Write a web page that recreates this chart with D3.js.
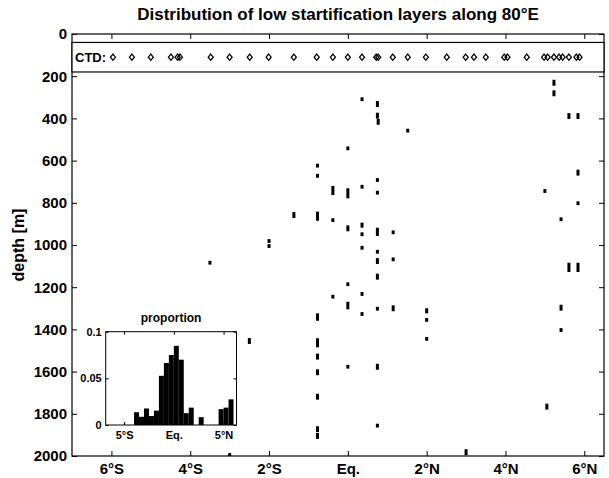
<!DOCTYPE html>
<html>
<head>
<meta charset="utf-8">
<script src="https://cdn.jsdelivr.net/npm/d3@7"></script>
<style>
  body { margin: 0; background: #fff; }
  svg { font-family: "Liberation Sans", Arial, Helvetica, sans-serif; font-weight: bold; }
  .axis text { font-size: 15px; font-weight: bold; fill: #000; }
  .inset .axis text { font-size: 11px; }
  .axis line { stroke: #000; }
</style>
</head>
<body>
<script>
// Latitudes of the CTD stations (deg, negative = south)
const ctdLat = [
  -5.96, -5.48, -5.0, -4.49, -4.32, -4.26, -3.48, -3.0, -2.49, -2.01,
  -1.37, -0.79, -0.38, 0.0, 0.36, 0.72, 0.77, 1.14, 1.52, 1.98,
  2.51, 2.99, 3.2, 3.5, 3.97, 4.05, 4.54, 4.98, 5.07, 5.23,
  5.36, 5.45, 5.61, 5.80, 5.88
];

// Low stratification layers: latitude, top and bottom depth [m]
const layerLat = [
  0.36, 0.75, 0.75, 0.77, 1.52, 0, -0.77, -0.77, 0.75, -0.38,
  0, 0.36, 0.75, -1.37, -0.77, -0.38, 0, 0.36, 0.36, 0.75,
  1.15, -2, -2, 0.36, 0.75, 0.75, 1.15, 0.75, 0, -0.38,
  0.36, 0, 0.36, 0.75, 1.15, 2, 2, -0.77, -2.5, -0.77,
  -0.77, -0.77, 2, 0, 0.75, -0.77, 0.75, -0.77, -0.77, 5.23,
  5.23, 5.61, 5.84, 5.84, 5.0, 5.84, 5.41, 5.61, 5.84, 5.41,
  5.41, 5.05, 3.0, -3.5, -3.0
];
const layerTop = [
  300, 318, 373, 402, 449, 533, 615, 663, 683, 720,
  731, 715, 743, 844, 842, 873, 907, 894, 940, 918,
  931, 972, 996, 1004, 1023, 1062, 1059, 1136, 1177, 1236,
  1223, 1269, 1318, 1293, 1286, 1300, 1346, 1324, 1441, 1442,
  1515, 1589, 1436, 1568, 1563, 1705, 1847, 1859, 1891, 217,
  267, 375, 375, 643, 735, 793, 869, 1084, 1084, 1283,
  1394, 1752, 1968, 1075, 1986
];
const layerBottom = [
  318, 346, 401, 430, 467, 551, 633, 681, 701, 763,
  779, 733, 761, 872, 885, 891, 935, 918, 958, 957,
  949, 990, 1014, 1022, 1041, 1090, 1077, 1164, 1195, 1254,
  1241, 1305, 1336, 1311, 1314, 1324, 1364, 1359, 1469, 1485,
  1543, 1617, 1454, 1586, 1591, 1733, 1865, 1887, 1919, 245,
  295, 403, 403, 671, 753, 811, 887, 1128, 1128, 1311,
  1412, 1780, 1996, 1093, 2000
];

// Inset histogram: left bin edge (deg) and proportion
const histLeft = [
  -4, -3.5, -3, -2.5, -2, -1.5, -1, -0.5, 0, 0.5,
  1, 1.5, 2, 2.5, 3, 3.5, 4, 4.5, 5, 5.5
];
const histValue = [
  0.0137, 0.0088, 0.0177, 0.0096, 0.0154, 0.0527, 0.0665, 0.0750, 0.0848, 0.0700,
  0.0127, 0.0186, 0, 0.0084, 0, 0, 0, 0.0170, 0.0186, 0.0275
];

const latTicks = [-6, -4, -2, 0, 2, 4, 6];
const depthTicks = [0, 200, 400, 600, 800, 1000, 1200, 1400, 1600, 1800, 2000];
const insetLatTicks = [-5, 0, 5];
const insetTicks = [0, 0.05, 0.1];

function latLabel(d) {
  if (d === 0) return 'Eq.';
  return Math.abs(d) + '\u00b0' + (d < 0 ? 'S' : 'N');
}

const W = 609, H = 478;
const box = { left: 72, right: 604, top: 34, bottom: 456 };

const svg = d3.select('body')
  .append('svg')
  .attr('width', W)
  .attr('height', H);

const x = d3.scaleLinear().domain([-7, 6.5]).range([box.left, box.right]);
const y = d3.scaleLinear().domain([0, 2000]).range([box.top, box.bottom]);

// axes, ticks inward
svg.append('g')
  .attr('class', 'x axis')
  .attr('transform', `translate(0, ${box.bottom})`)
  .call(d3.axisBottom(x).tickValues(latTicks).tickFormat(latLabel)
    .tickSizeInner(-5).tickSizeOuter(0).tickPadding(7))
  .call(g => g.select('.domain').remove());

svg.append('g')
  .attr('class', 'x axis')
  .attr('transform', `translate(0, ${box.top})`)
  .call(d3.axisTop(x).tickValues(latTicks).tickFormat('')
    .tickSizeInner(-5).tickSizeOuter(0))
  .call(g => g.select('.domain').remove());

svg.append('g')
  .attr('class', 'y axis')
  .attr('transform', `translate(${box.left}, 0)`)
  .call(d3.axisLeft(y).tickValues(depthTicks).tickFormat(d3.format('d'))
    .tickSizeInner(-5).tickSizeOuter(0).tickPadding(5))
  .call(g => g.select('.domain').remove());

svg.append('g')
  .attr('class', 'y axis')
  .attr('transform', `translate(${box.right}, 0)`)
  .call(d3.axisRight(y).tickValues(depthTicks).tickFormat('')
    .tickSizeInner(-5).tickSizeOuter(0))
  .call(g => g.select('.domain').remove());

svg.append('rect')
  .attr('x', box.left)
  .attr('y', box.top)
  .attr('width', box.right - box.left)
  .attr('height', box.bottom - box.top)
  .attr('fill', 'none')
  .attr('stroke', '#000')
  .attr('stroke-width', 1.2);

// layers
svg.selectAll('rect.layer')
  .data(layerLat)
  .enter()
  .append('rect')
  .attr('class', 'layer')
  .attr('x', d => x(d) - 1.5)
  .attr('width', 3)
  .attr('y', (d, i) => y(layerTop[i]))
  .attr('height', (d, i) => y(layerBottom[i]) - y(layerTop[i]))
  .attr('fill', '#000');

// CTD strip
const strip = svg.append('g');
strip.append('rect')
  .attr('x', box.left)
  .attr('y', y(40))
  .attr('width', box.right - box.left)
  .attr('height', y(180) - y(40))
  .attr('fill', '#fff')
  .attr('stroke', '#000')
  .attr('stroke-width', 1.2);

strip.append('text')
  .text('CTD:')
  .attr('x', 75)
  .attr('y', y(110))
  .attr('dominant-baseline', 'central')
  .attr('font-size', 13);

const diamond = {
  draw(context, size) {
    const w = 2.5, h = 3.1;
    context.moveTo(0, -h);
    context.lineTo(w, 0);
    context.lineTo(0, h);
    context.lineTo(-w, 0);
    context.closePath();
  }
};

strip.selectAll('path.ctd')
  .data(ctdLat)
  .enter()
  .append('path')
  .attr('class', 'ctd')
  .attr('d', d3.symbol().type(diamond))
  .attr('transform', d => `translate(${x(d)}, ${y(110)})`)
  .attr('fill', 'none')
  .attr('stroke', '#000')
  .attr('stroke-width', 1.3);

// inset histogram
const ix = d3.scaleLinear().domain([-6.85, 6.3]).range([105.7, 236.5]);
const iy = d3.scaleLinear().domain([0, 0.1]).range([425, 331.7]);

const inset = svg.append('g').attr('class', 'inset');

inset.append('rect')
  .attr('x', ix.range()[0])
  .attr('y', iy.range()[1])
  .attr('width', ix.range()[1] - ix.range()[0])
  .attr('height', iy.range()[0] - iy.range()[1])
  .attr('fill', '#fff');

inset.selectAll('rect.bar')
  .data(histValue)
  .enter()
  .append('rect')
  .attr('class', 'bar')
  .attr('x', (d, i) => ix(histLeft[i]))
  .attr('width', (d, i) => ix(histLeft[i] + 0.5) - ix(histLeft[i]))
  .attr('y', d => iy(d))
  .attr('height', d => iy(0) - iy(d))
  .attr('fill', '#000');

inset.append('g')
  .attr('class', 'x axis')
  .attr('transform', `translate(0, ${iy(0)})`)
  .call(d3.axisBottom(ix).tickValues(insetLatTicks).tickFormat(latLabel)
    .tickSizeInner(-3).tickSizeOuter(0).tickPadding(6))
  .call(g => g.select('.domain').remove());

inset.append('g')
  .attr('class', 'x axis')
  .attr('transform', `translate(0, ${iy(0.1)})`)
  .call(d3.axisTop(ix).tickValues(insetLatTicks).tickFormat('')
    .tickSizeInner(-3).tickSizeOuter(0))
  .call(g => g.select('.domain').remove());

inset.append('g')
  .attr('class', 'y axis')
  .attr('transform', `translate(${ix.range()[0]}, 0)`)
  .call(d3.axisLeft(iy).tickValues(insetTicks).tickFormat(d => d === 0 ? '0' : String(d))
    .tickSizeInner(-3).tickSizeOuter(0).tickPadding(4))
  .call(g => g.select('.domain').remove());

inset.append('g')
  .attr('class', 'y axis')
  .attr('transform', `translate(${ix.range()[1]}, 0)`)
  .call(d3.axisRight(iy).tickValues(insetTicks).tickFormat('')
    .tickSizeInner(-3).tickSizeOuter(0))
  .call(g => g.select('.domain').remove());

inset.append('rect')
  .attr('x', ix.range()[0])
  .attr('y', iy.range()[1])
  .attr('width', ix.range()[1] - ix.range()[0])
  .attr('height', iy.range()[0] - iy.range()[1])
  .attr('fill', 'none')
  .attr('stroke', '#000')
  .attr('stroke-width', 1);

inset.append('text')
  .text('proportion')
  .attr('text-anchor', 'middle')
  .attr('x', (ix.range()[0] + ix.range()[1]) / 2)
  .attr('y', 322)
  .attr('font-size', 12);

// titles
svg.append('text')
  .text('Distribution of low startification layers along 80\u00b0E')
  .attr('text-anchor', 'middle')
  .attr('x', (box.left + box.right) / 2)
  .attr('y', 20)
  .attr('font-size', 17);

svg.append('text')
  .text('depth [m]')
  .attr('text-anchor', 'middle')
  .attr('transform', `translate(24, ${(box.top + box.bottom) / 2}) rotate(-90)`)
  .attr('font-size', 16);
</script>
</body>
</html>
